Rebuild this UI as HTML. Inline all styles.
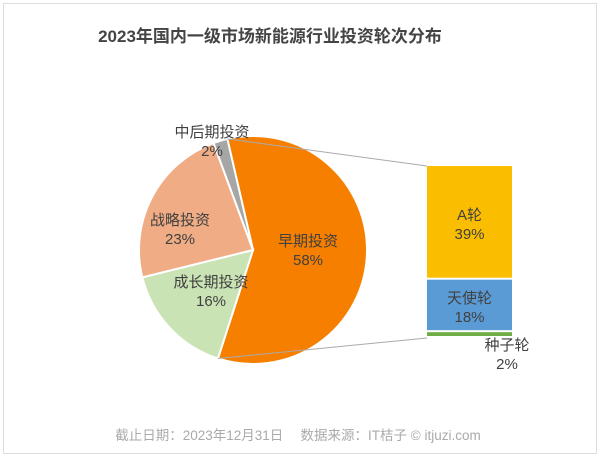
<!DOCTYPE html>
<html><head><meta charset="utf-8"><style>
body{margin:0;background:#fff;}
svg text{font-family:"Liberation Sans","Noto Sans CJK SC",sans-serif;}
</style></head><body>
<svg width="600" height="459" viewBox="0 0 600 459">
<rect x="3.5" y="3.5" width="593" height="450" fill="#fff" stroke="#ddd"/>
<text x="270" y="42" text-anchor="middle" font-size="17" font-weight="bold" fill="#444">2023年国内一级市场新能源行业投资轮次分布</text>
<g id="pie"></g>
<g id="bar"></g>
<text x="298" y="440" text-anchor="middle" font-size="13.5" fill="#aaa">截止日期：2023年12月31日　 数据来源：IT桔子 © itjuzi.com</text>
</svg>
<script>
const pieLabels=["早期投资","成长期投资","战略投资","中后期投资"];
const pieValues=[58,16,23,2];
const pieColors=["#f77f00","#c9e3b5","#efac85","#a6a6a6"];
const barLabels=["A轮","天使轮","种子轮"];
const barValues=[39,18,2];
const barColors=["#fbbd00","#5a9bd5","#70ad47"];
const NS="http://www.w3.org/2000/svg";
function mk(t,a,p){const e=document.createElementNS(NS,t);for(const k in a)e.setAttribute(k,a[k]);p.appendChild(e);return e;}
const cx=253,cy=250,R=114,start=-13;
const pie=document.getElementById('pie');
const tot=pieValues.reduce((a,b)=>a+b,0);
function pt(deg,r){const a=(deg-90)*Math.PI/180;return [cx+r*Math.cos(a),cy+r*Math.sin(a)];}
let ang=start;const ends=[];
const labPos=[[308,246],[211,287],[180,225],[212,137]];
pieValues.forEach((v,i)=>{
 const sw=v/tot*360;const a0=ang,a1=ang+sw;ends.push([a0,a1]);
 const p0=pt(a0,R),p1=pt(a1,R);
 const path=mk('path',{d:`M${cx},${cy}L${p0[0]},${p0[1]}A${R},${R} 0 ${sw>180?1:0} 1 ${p1[0]},${p1[1]}Z`,fill:pieColors[i],stroke:'#fff','stroke-width':2},pie);
 
 
 const [lx,ly]=labPos[i];
 const t=mk('text',{x:lx,y:ly,'text-anchor':'middle','font-size':15,fill:'#404040'},pie);
 
 
 mk('tspan',{x:lx,dy:0},t).textContent=pieLabels[i];
 mk('tspan',{x:lx,dy:19},t).textContent=v+'%';
 ang=a1;
});
const bar=document.getElementById('bar');
const bx=427,bw=85,by0=166,bh=172;
const btot=barValues.reduce((a,b)=>a+b,0);
const pA=pt(ends[0][0],R),pB=pt(ends[0][1],R);
const l1=mk('line',{x1:pA[0],y1:pA[1],x2:bx,y2:by0,stroke:'#aaa','stroke-width':1},bar);


const l2=mk('line',{x1:pB[0],y1:pB[1],x2:bx,y2:by0+bh,stroke:'#aaa','stroke-width':1},bar);


let y=by0;
barValues.forEach((v,i)=>{
 const h=v/btot*bh;
 const r=mk('rect',{x:bx,y:y,width:bw,height:Math.max(h-2,1),fill:barColors[i]},bar);
 
 
 const big=h>30;const lx=big?bx+bw/2:bx+80,ly=big?y+h/2-3:y+h+12;
 const t=mk('text',{x:lx,y:ly,'text-anchor':'middle','font-size':15,fill:'#404040'},bar);
 
 
 mk('tspan',{x:lx,dy:0},t).textContent=barLabels[i];
 mk('tspan',{x:lx,dy:19},t).textContent=v+'%';
 y+=h;
});
</script>
</body></html>
